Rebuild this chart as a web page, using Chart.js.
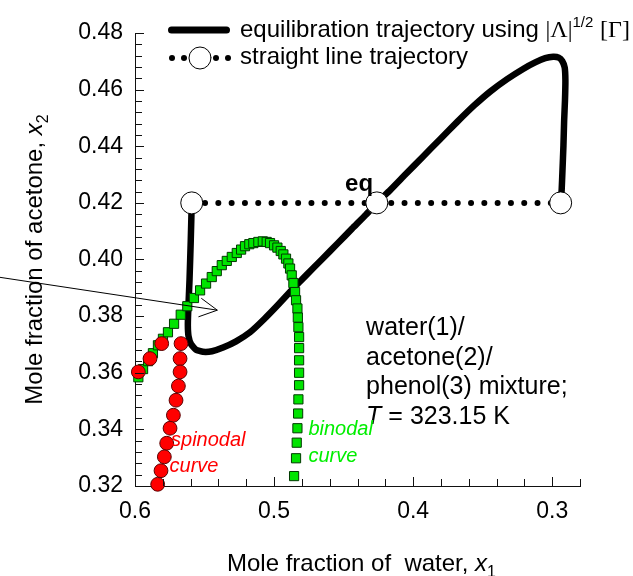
<!DOCTYPE html>
<html><head><meta charset="utf-8">
<script src="https://cdn.jsdelivr.net/npm/chart.js@4.4.1/dist/chart.umd.min.js"></script>
<style>html,body{margin:0;padding:0;background:#fff;}#wrap{width:633px;height:576px;}</style>
</head><body><div id="wrap"><canvas id="c" width="633" height="576"></canvas></div>
<script>
// ---- data ----
const xTickValues = [0.6, 0.5, 0.4, 0.3];
const yTickValues = [0.32, 0.34, 0.36, 0.38, 0.40, 0.42, 0.44, 0.46, 0.48];

// equilibration trajectory using |Λ|^1/2 [Γ]
const trajX = [0.5592,0.5599,0.5608,0.5617,0.5620,0.5615,0.5597,0.5561,0.5511,0.5446,0.5367,0.5273,0.5173,0.5072,0.4971,0.4871,0.4770,0.4655,0.4540,0.4439,0.4338,0.4261,0.4165,0.4058,0.3928,0.3806,0.3683,0.3561,0.3446,0.3324,0.3209,0.3122,0.3050,0.2993,0.2953,0.2928,0.2910,0.2905,0.2908,0.2914,0.2919,0.2926,0.2932,0.2939];
const trajY = [0.4200,0.4068,0.3927,0.3821,0.3768,0.3729,0.3701,0.3681,0.3674,0.3676,0.3689,0.3711,0.3743,0.3789,0.3840,0.3893,0.3944,0.4001,0.4058,0.4109,0.4159,0.4200,0.4245,0.4299,0.4364,0.4425,0.4486,0.4544,0.4593,0.4637,0.4673,0.4696,0.4711,0.4716,0.4713,0.4701,0.4678,0.4632,0.4562,0.4491,0.4403,0.4315,0.4244,0.4200];

// straight line trajectory (start, eq, end)
const straightX = [0.5592, 0.4261, 0.2939];
const straightY = [0.42, 0.42, 0.42];

// spinodal curve
const spinX = [0.5976,0.5892,0.5808,0.5669,0.5676,0.5676,0.5688,0.5705,0.5724,0.5748,0.5772,0.5789,0.5813,0.5837];
const spinY = [0.3603,0.3650,0.3703,0.3703,0.3650,0.3603,0.3553,0.3503,0.3450,0.3404,0.3351,0.3303,0.3254,0.3206];

// binodal curve
const binX = [0.5976,0.5942,0.5906,0.5871,0.5835,0.5799,0.5763,0.5719,0.5671,0.5624,0.5576,0.5532,0.5489,0.5448,0.5412,0.5376,0.5340,0.5304,0.5268,0.5237,0.5209,0.5178,0.5149,0.5113,0.5081,0.5053,0.5029,0.5000,0.4976,0.4952,0.4933,0.4914,0.4897,0.4885,0.4873,0.4861,0.4849,0.4842,0.4832,0.4829,0.4825,0.4820,0.4820,0.4820,0.4820,0.4820,0.4825,0.4827,0.4832,0.4837,0.4842,0.4856];
const binY = [0.3584,0.3613,0.3641,0.3669,0.3697,0.3720,0.3743,0.3773,0.3805,0.3835,0.3864,0.3891,0.3915,0.3938,0.3959,0.3980,0.3995,0.4009,0.4023,0.4035,0.4047,0.4054,0.4058,0.4062,0.4064,0.4062,0.4058,0.4050,0.4042,0.4030,0.4018,0.4003,0.3986,0.3968,0.3944,0.3917,0.3885,0.3856,0.3827,0.3795,0.3761,0.3726,0.3687,0.3644,0.3600,0.3556,0.3506,0.3456,0.3404,0.3353,0.3298,0.3235];

// ---- helpers ----
const SANS = '"Liberation Sans", Arial, Helvetica, sans-serif';
const SERIF = '"Liberation Serif", "Times New Roman", serif';
const pts = (xs, ys) => xs.map((x, i) => ({x: x, y: ys[i]}));

function partsWidth(ctx, parts) {
  let w = 0;
  for (const p of parts) { ctx.font = p.f; w += ctx.measureText(p.t).width; }
  return w;
}
function drawParts(ctx, x, y, parts, color) {
  ctx.textAlign = 'left';
  ctx.textBaseline = 'alphabetic';
  for (const p of parts) {
    ctx.font = p.f;
    ctx.fillStyle = p.c || color || '#000';
    ctx.fillText(p.t, x, y + (p.dy || 0));
    x += ctx.measureText(p.t).width;
  }
  return x;
}

const decor = {
  id: 'decor',
  afterDraw(chart) {
    const ctx = chart.ctx;
    const xs = chart.scales.x, ys = chart.scales.y;
    const ca = chart.chartArea;
    ctx.save();
    // inward ticks
    ctx.strokeStyle = '#111';
    ctx.lineWidth = 1;
    ctx.beginPath();
    for (let i = 0; i <= 40; i++) {
      const v = 0.32 + i * 0.004;
      const py = Math.round(ys.getPixelForValue(v)) + 0.5;
      const len = (i % 5 === 0) ? 9 : 7;
      ctx.moveTo(ca.left, py); ctx.lineTo(ca.left + len, py);
    }
    for (let i = 0; i <= 16; i++) {
      const v = 0.6 - i * 0.02;
      const px = Math.round(xs.getPixelForValue(v)) + 0.5;
      const len = (i % 5 === 0) ? 9 : 7;
      ctx.moveTo(px, ca.bottom); ctx.lineTo(px, ca.bottom - len);
    }
    ctx.stroke();

    // arrow
    const ax0 = xs.getPixelForValue(0.6971), ay0 = ys.getPixelForValue(0.3937);
    const ax1 = xs.getPixelForValue(0.5408), ay1 = ys.getPixelForValue(0.3821);
    const ang = Math.atan2(ay0 - ay1, ax0 - ax1);
    ctx.beginPath();
    ctx.moveTo(ax0, ay0); ctx.lineTo(ax1, ay1);
    const L = 20, h = 28 * Math.PI / 180;
    ctx.moveTo(ax1 + L * Math.cos(ang + h), ay1 + L * Math.sin(ang + h));
    ctx.lineTo(ax1, ay1);
    ctx.lineTo(ax1 + L * Math.cos(ang - h), ay1 + L * Math.sin(ang - h));
    ctx.strokeStyle = '#000';
    ctx.lineWidth = 1;
    ctx.stroke();

    // eq label
    drawParts(ctx, xs.getPixelForValue(0.4489), ys.getPixelForValue(0.4241), [{t: 'eq', f: 'bold 24px ' + SANS}]);

    // composition text
    const tx = xs.getPixelForValue(0.4338);
    let ty = ys.getPixelForValue(0.3733);
    const F = '25px ' + SANS;
    drawParts(ctx, tx, ty, [{t: 'water(1)/', f: F}]);
    drawParts(ctx, tx, ty + 29.5, [{t: 'acetone(2)/', f: F}]);
    drawParts(ctx, tx, ty + 59, [{t: 'phenol(3) mixture;', f: F}]);
    drawParts(ctx, tx, ty + 88.5, [{t: 'T', f: 'italic 25px ' + SANS}, {t: ' = 323.15 K', f: F}]);

    // spinodal / binodal labels
    const IF = 'italic 20px ' + SANS;
    const sx = xs.getPixelForValue(0.5741), sy = ys.getPixelForValue(0.3342);
    drawParts(ctx, sx, sy, [{t: 'spinodal', f: IF}], '#ff0000');
    drawParts(ctx, sx - 1.5, sy + 26.5, [{t: 'curve', f: IF}], '#ff0000');
    const bx = xs.getPixelForValue(0.4753), by = ys.getPixelForValue(0.3380);
    drawParts(ctx, bx, by, [{t: 'binodal', f: IF}], '#00ee00');
    drawParts(ctx, bx, by + 26.5, [{t: 'curve', f: IF}], '#00ee00');

    // axis titles
    const xt = [{t: 'Mole fraction of  water, ', f: '24px ' + SANS}, {t: 'x', f: 'italic 24px ' + SANS}, {t: '1', f: '16px ' + SANS, dy: 6}];
    const xw = partsWidth(ctx, xt);
    drawParts(ctx, (ca.left + ca.right) / 2 + 4 - xw / 2, 571, xt);
    const yt = [{t: 'Mole fraction of acetone, ', f: '24px ' + SANS}, {t: 'x', f: 'italic 24px ' + SANS}, {t: '2', f: '16px ' + SANS, dy: 6}];
    const yw = partsWidth(ctx, yt);
    ctx.save();
    ctx.translate(41.5, (ca.top + ca.bottom) / 2);
    ctx.rotate(-Math.PI / 2);
    drawParts(ctx, -yw / 2, 0, yt);
    ctx.restore();

    // legend
    ctx.lineCap = 'round';
    ctx.strokeStyle = '#000';
    ctx.lineWidth = 7;
    ctx.beginPath(); ctx.moveTo(171.5, 30); ctx.lineTo(226.5, 30); ctx.stroke();
    const LF = '24px ' + SANS;
    drawParts(ctx, 240, 37, [
      {t: 'equilibration trajectory using ', f: LF},
      {t: '|\u039B|', f: '24px ' + SERIF},
      {t: '1/2', f: '15px ' + SANS, dy: -10},
      {t: ' ', f: LF},
      {t: '[\u0393]', f: '24px ' + SERIF}
    ]);
    ctx.fillStyle = '#000';
    for (const dx of [172, 184, 216, 228]) {
      ctx.beginPath(); ctx.arc(dx, 58, 3, 0, Math.PI * 2); ctx.fill();
    }
    ctx.beginPath(); ctx.arc(200, 58, 11, 0, Math.PI * 2);
    ctx.fillStyle = '#fff'; ctx.fill();
    ctx.lineWidth = 1; ctx.strokeStyle = '#000'; ctx.stroke();
    drawParts(ctx, 240, 64, [{t: 'straight line trajectory', f: LF}]);
    ctx.restore();
  }
};

const chart = new Chart(document.getElementById('c'), {
  type: 'scatter',
  data: {
    datasets: [
      {
        label: 'straight line trajectory',
        data: pts(straightX, straightY),
        showLine: true,
        borderColor: '#000',
        borderWidth: 6,
        borderDash: [0, 13.3],
        borderCapStyle: 'round',
        pointStyle: 'circle',
        pointRadius: 11,
        pointBackgroundColor: '#fff',
        pointBorderColor: '#000',
        pointBorderWidth: 1,
        order: 1,
        clip: false
      },
      {
        label: 'spinodal curve',
        data: pts(spinX, spinY),
        showLine: false,
        pointStyle: 'circle',
        pointRadius: 6.9,
        pointBackgroundColor: '#ff0000',
        pointBorderColor: '#5a0000',
        pointBorderWidth: 1,
        order: 2,
        clip: false
      },
      {
        label: 'binodal curve',
        data: pts(binX, binY),
        showLine: false,
        pointStyle: 'rect',
        pointRadius: 6.5,
        pointBackgroundColor: '#00e400',
        pointBorderColor: '#003a00',
        pointBorderWidth: 1,
        order: 3,
        clip: false
      },
      {
        label: 'equilibration trajectory',
        data: pts(trajX, trajY),
        showLine: true,
        borderColor: '#000',
        borderWidth: 6.5,
        borderJoinStyle: 'round',
        borderCapStyle: 'round',
        tension: 0.15,
        pointRadius: 0,
        order: 4,
        clip: false
      }
    ]
  },
  options: {
    responsive: false,
    animation: false,
    devicePixelRatio: 1,
    layout: {padding: {top: 33, right: 53, left: 0, bottom: 0}},
    plugins: {legend: {display: false}, tooltip: {enabled: false}},
    scales: {
      x: {
        type: 'linear', reverse: true, min: 0.28, max: 0.6,
        afterBuildTicks: (s) => { s.ticks = xTickValues.map(v => ({value: v})); },
        afterFit: (s) => { s.height = 90; },
        grid: {display: true, drawOnChartArea: false, drawTicks: false},
        border: {display: true, color: '#111', width: 1},
        ticks: {
          color: '#000', padding: 12, maxRotation: 0, autoSkip: false,
          font: {family: SANS, size: 23},
          callback: (v) => Number(v).toFixed(1)
        }
      },
      y: {
        type: 'linear', min: 0.32, max: 0.48,
        afterBuildTicks: (s) => { s.ticks = yTickValues.map(v => ({value: v})); },
        afterFit: (s) => { s.width = 135; },
        grid: {display: true, drawOnChartArea: false, drawTicks: false},
        border: {display: true, color: '#111', width: 1},
        ticks: {
          color: '#000', padding: 12, autoSkip: false,
          font: {family: SANS, size: 23},
          callback: (v) => Number(v).toFixed(2)
        }
      }
    }
  },
  plugins: [decor]
});
</script></body></html>
